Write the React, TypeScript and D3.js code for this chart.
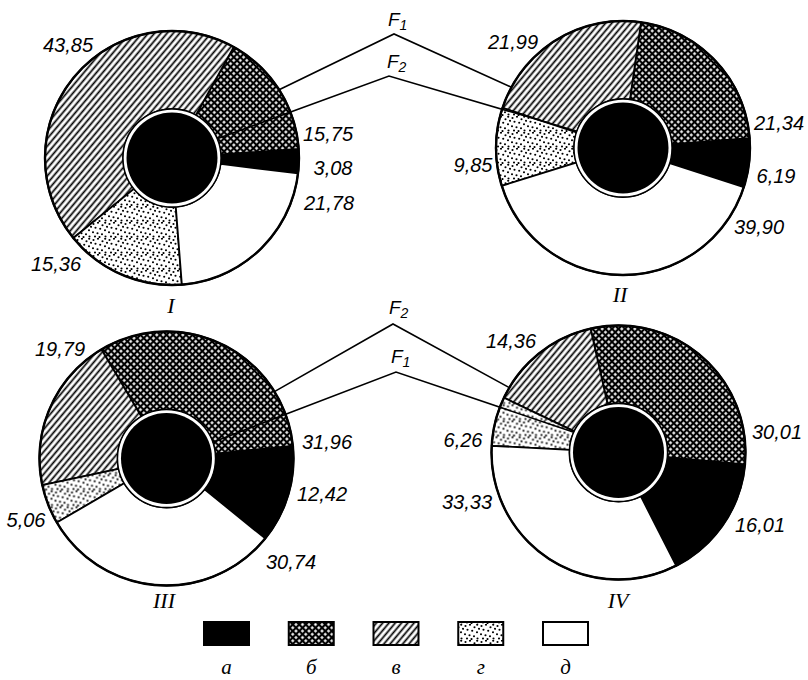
import React from 'react';
import * as d3 from 'd3';

// ---------- data ----------
const categories = ['а', 'б', 'в', 'г', 'д'];
const pieNames = ['I', 'II', 'III', 'IV'];
const valuesI = [3.08, 15.75, 43.85, 15.36, 21.78];
const valuesII = [6.19, 21.34, 21.99, 9.85, 39.9];
const valuesIII = [12.42, 31.96, 19.79, 5.06, 30.74];
const valuesIV = [16.01, 30.01, 14.36, 6.26, 33.33];
const factorNames = ['F', 'F'];
const factorIndex = ['1', '2'];

const allValues = [valuesI, valuesII, valuesIII, valuesIV];

// ---------- layout ----------
const W = 808;
const H = 680;
const centers: [number, number][] = [
  [172, 158],
  [623, 148],
  [166.5, 458.5],
  [618.5, 452.5],
];
const startDeg = [-7, -18, -39, -63];
const R_OUT = 127;
const R_IN = 49;
const R_DISK = 45.5;

// label offsets relative to pie center, in category order а..д
const labelOffsets: [number, number][][] = [
  [[161, 10], [156, -24], [-104, -113], [-116, 106], [157, 45]],
  [[153, 28], [156, -25], [-110, -106], [-150, 17], [136, 79]],
  [[155.5, 35.5], [160.5, -16.5], [-106.5, -109.5], [-140.5, 61.5], [124.5, 103.5]],
  [[141.5, 72.5], [158.5, -20.5], [-107.5, -111.5], [-155.5, -12.5], [-151.5, 49.5]],
];
const numeralOffsets: [number, number][] = [[-1, 147], [-3, 146], [-2.5, 142], [-0.5, 148]];

const fills = ['#000', 'url(#pat-b)', 'url(#pat-v)', 'url(#pat-g)', '#fff'];

type End = { pie: number; deg: number; r: number };
const connectors: { idx: number; from: End; peak: [number, number]; to: End; lab: [number, number] }[] = [
  { idx: 0, from: { pie: 0, deg: 32.5, r: R_OUT }, peak: [394, 34], to: { pie: 1, deg: 151.4, r: R_OUT }, lab: [388, 26] },
  { idx: 1, from: { pie: 0, deg: 23, r: R_IN }, peak: [389, 76], to: { pie: 1, deg: 160, r: R_IN }, lab: [387, 68] },
  { idx: 1, from: { pie: 2, deg: 31.8, r: R_OUT }, peak: [393, 324], to: { pie: 3, deg: 149.3, r: R_OUT }, lab: [389, 314] },
  { idx: 0, from: { pie: 2, deg: 19.5, r: R_IN }, peak: [396, 372], to: { pie: 3, deg: 155.7, r: R_IN }, lab: [391, 363] },
];

const numFont = "'Liberation Sans', Arial, sans-serif";
const serifFont = "'Liberation Serif', 'DejaVu Serif', serif";

function endPoint(e: End): [number, number] {
  const [cx, cy] = centers[e.pie];
  const t = (e.deg * Math.PI) / 180;
  return [cx + e.r * Math.cos(t), cy - e.r * Math.sin(t)];
}

const fmt = (v: number) => v.toFixed(2).replace('.', ',');

const dotPositions: [number, number][] = [
  [1.5, 2], [6, 0.8], [10.5, 3.2], [3.5, 5.8], [8.2, 6.8], [13, 8.2],
  [1, 10.2], [5.5, 11.2], [10, 12.2], [13.2, 0.8], [3, 14.5], [13.5, 14.5],
  [7.5, 15], [15, 4.8],
];

export default function App() {
  const arc = d3.arc<d3.PieArcDatum<number>>().innerRadius(R_IN).outerRadius(R_OUT);
  const legendX = d3.scalePoint<string>().domain(categories).range([226.5, 565.5]);

  return (
    <svg
      width={W}
      height={H}
      viewBox={`0 0 ${W} ${H}`}
      style={{ position: 'absolute', left: 0, top: 0, background: '#fff' }}
    >
      <defs>
        <pattern id="pat-b" width="4.6" height="4.6" patternUnits="userSpaceOnUse" patternTransform="rotate(45)">
          <rect width="4.6" height="4.6" fill="#000" />
          <rect x="1.1" y="1.1" width="2.4" height="2.4" fill="#fff" />
        </pattern>
        <pattern id="pat-v" width="4.8" height="4.8" patternUnits="userSpaceOnUse" patternTransform="rotate(40)">
          <rect width="4.8" height="4.8" fill="#fff" />
          <line x1="2.4" y1="-1" x2="2.4" y2="6" stroke="#000" strokeWidth="1.75" />
        </pattern>
        <pattern id="pat-g" width="16" height="16" patternUnits="userSpaceOnUse">
          <rect width="16" height="16" fill="#fff" />
          {dotPositions.map(([x, y], i) => (
            <circle key={i} cx={x} cy={y} r={1.05} fill="#000" />
          ))}
        </pattern>
      </defs>
      <rect width={W} height={H} fill="#fff" />

      {allValues.map((vals, pi) => {
        const s = Math.PI / 2 - (startDeg[pi] * Math.PI) / 180;
        const pie = d3
          .pie<number>()
          .sort(null)
          .value((d) => d)
          .startAngle(s)
          .endAngle(s - 2 * Math.PI);
        const arcs = pie(vals);
        const [cx, cy] = centers[pi];
        return (
          <g key={pi} transform={`translate(${cx},${cy})`}>
            {arcs.map((a, i) => (
              <path key={i} d={arc(a) || ''} fill={fills[i]} stroke="#000" strokeWidth={1.8} strokeLinejoin="round" />
            ))}
            <circle r={R_OUT} fill="none" stroke="#000" strokeWidth={2.4} />
            <circle r={R_IN} fill="#fff" stroke="#000" strokeWidth={1.4} />
            <circle r={R_DISK} fill="#000" />
            {vals.map((v, i) => (
              <text
                key={i}
                x={labelOffsets[pi][i][0]}
                y={labelOffsets[pi][i][1]}
                textAnchor="middle"
                dominantBaseline="central"
                fontFamily={numFont}
                fontStyle="italic"
                fontSize={20}
                fill="#000"
              >
                {fmt(v)}
              </text>
            ))}
            <text
              x={numeralOffsets[pi][0]}
              y={numeralOffsets[pi][1]}
              textAnchor="middle"
              dominantBaseline="central"
              fontFamily={serifFont}
              fontStyle="italic"
              fontSize={22}
              fill="#000"
            >
              {pieNames[pi]}
            </text>
          </g>
        );
      })}

      {connectors.map((c, i) => {
        const a = endPoint(c.from);
        const b = endPoint(c.to);
        const pts = [a, c.peak, b];
        const line = d3.line()(pts as [number, number][]);
        return (
          <g key={i}>
            <path d={line || ''} fill="none" stroke="#000" strokeWidth={1.6} strokeLinejoin="miter" />
            <text x={c.lab[0]} y={c.lab[1]} fontFamily={numFont} fontStyle="italic" fontSize={19} fill="#000">
              {factorNames[c.idx]}
              <tspan fontSize={14} dy={4}>
                {factorIndex[c.idx]}
              </tspan>
            </text>
          </g>
        );
      })}

      {categories.map((cat, i) => {
        const x = legendX(cat) as number;
        return (
          <g key={cat}>
            <rect x={x - 22.5} y={622} width={45} height={23} fill={fills[i]} stroke="#000" strokeWidth={2} />
            <text
              x={x}
              y={667}
              textAnchor="middle"
              dominantBaseline="central"
              fontFamily={serifFont}
              fontStyle="italic"
              fontSize={21}
              fill="#000"
            >
              {cat}
            </text>
          </g>
        );
      })}
    </svg>
  );
}
